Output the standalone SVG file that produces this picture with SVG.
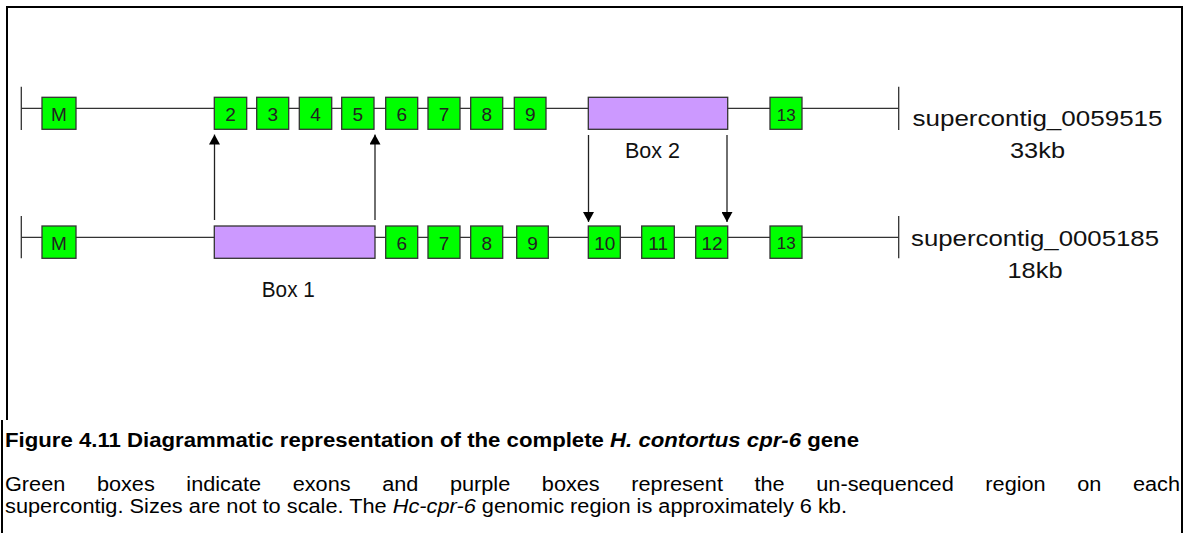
<svg xmlns="http://www.w3.org/2000/svg" width="1192" height="533" viewBox="0 0 1192 533">
<style>
.frame{fill:none;stroke:#000;stroke-width:2}
.ln{fill:none;stroke:#333;stroke-width:1.3}
.ex{fill:#00ff00;stroke:#333;stroke-width:1.3}
.gap{fill:#cc99ff;stroke:#333;stroke-width:1.3}
.num{font-family:"Liberation Sans",Arial,sans-serif;font-size:19px;fill:#222;text-anchor:middle}
.n13{font-size:17px}
.lbl{font-family:"Liberation Sans",Arial,sans-serif;font-size:22px;fill:#111;text-anchor:middle}
.cap{font-family:"Liberation Sans",Arial,sans-serif;font-size:19.5px;fill:#000}
.arr{fill:none;stroke:#222;stroke-width:1.3}
</style>
<defs>
<marker id="ah" markerUnits="userSpaceOnUse" markerWidth="10" markerHeight="11" viewBox="0 0 10 11" refX="10" refY="5.5" orient="auto">
<path d="M0,0 L10,5.5 L0,11 z" fill="#000"/>
</marker>
</defs>
<rect width="1192" height="533" fill="#fff"/>
<g id="frame">
<path class="frame" d="M7,420 V7 H1182 V533"/>
<path class="frame" d="M2,420 V533"/>
</g>
<g id="backbones">
<path class="ln" d="M21.3,108.3 H898.7 M21.3,86.7 V130 M898.7,86.7 V130"/>
<path class="ln" d="M21.3,237.3 H898.7 M21.3,216 V258.3 M898.7,216 V258.3"/>
</g>
<g id="connectors">
<line class="arr" x1="214.5" y1="220" x2="214.5" y2="134.5" marker-end="url(#ah)"/>
<line class="arr" x1="375" y1="220" x2="375" y2="134.5" marker-end="url(#ah)"/>
<line class="arr" x1="588.5" y1="135" x2="588.5" y2="222" marker-end="url(#ah)"/>
<line class="arr" x1="727" y1="135" x2="727" y2="222" marker-end="url(#ah)"/>
</g>
<g id="row1">
<g id="r1-M"><rect class="ex" x="42" y="97.3" width="34" height="32"/><text class="num" x="59" y="121">M</text></g>
<g id="r1-2"><rect class="ex" x="214.3" y="97.3" width="32.4" height="32"/><text class="num" x="230.5" y="121">2</text></g>
<g id="r1-3"><rect class="ex" x="256.7" y="97.3" width="32" height="32"/><text class="num" x="272.7" y="121">3</text></g>
<g id="r1-4"><rect class="ex" x="299.3" y="97.3" width="32.4" height="32"/><text class="num" x="315.5" y="121">4</text></g>
<g id="r1-5"><rect class="ex" x="341.7" y="97.3" width="32.3" height="32"/><text class="num" x="357.8" y="121">5</text></g>
<g id="r1-6"><rect class="ex" x="385.7" y="97.3" width="32" height="32"/><text class="num" x="401.7" y="121">6</text></g>
<g id="r1-7"><rect class="ex" x="428" y="97.3" width="32" height="32"/><text class="num" x="444" y="121">7</text></g>
<g id="r1-8"><rect class="ex" x="470.7" y="97.3" width="32" height="32"/><text class="num" x="486.7" y="121">8</text></g>
<g id="r1-9"><rect class="ex" x="514.3" y="97.3" width="31.7" height="32"/><text class="num" x="530.2" y="121">9</text></g>
<g id="box2"><rect class="gap" x="588.3" y="97.3" width="139.4" height="32"/><text class="lbl" x="652.5" y="158" textLength="55" lengthAdjust="spacingAndGlyphs">Box 2</text></g>
<g id="r1-13"><rect class="ex" x="770" y="97.3" width="32" height="32"/><text class="num n13" x="786.3" y="120.5">13</text></g>
<g id="label1"><text class="lbl" x="1037.5" y="126" textLength="250" lengthAdjust="spacingAndGlyphs">supercontig_0059515</text><text class="lbl" x="1037.5" y="158" textLength="55" lengthAdjust="spacingAndGlyphs">33kb</text></g>
</g>
<g id="row2">
<g id="r2-M"><rect class="ex" x="42" y="226" width="34" height="32.3"/><text class="num" x="59" y="249.5">M</text></g>
<g id="box1"><rect class="gap" x="214.3" y="226" width="160.7" height="32.3"/><text class="lbl" x="288.3" y="297" textLength="53" lengthAdjust="spacingAndGlyphs">Box 1</text></g>
<g id="r2-6"><rect class="ex" x="385.7" y="226" width="32" height="32.3"/><text class="num" x="401.7" y="249.5">6</text></g>
<g id="r2-7"><rect class="ex" x="428" y="226" width="32" height="32.3"/><text class="num" x="444" y="249.5">7</text></g>
<g id="r2-8"><rect class="ex" x="470.7" y="226" width="32" height="32.3"/><text class="num" x="486.7" y="249.5">8</text></g>
<g id="r2-9"><rect class="ex" x="516.7" y="226" width="31.6" height="32.3"/><text class="num" x="532.5" y="249.5">9</text></g>
<g id="r2-10"><rect class="ex" x="588.3" y="226" width="32" height="32.3"/><text class="num" x="604.8" y="249.5">10</text></g>
<g id="r2-11"><rect class="ex" x="641.7" y="226" width="32.6" height="32.3"/><text class="num" x="658.2" y="249.5">11</text></g>
<g id="r2-12"><rect class="ex" x="695.7" y="226" width="32" height="32.3"/><text class="num" x="712" y="249.5">12</text></g>
<g id="r2-13"><rect class="ex" x="770" y="226" width="32" height="32.3"/><text class="num n13" x="786.3" y="249">13</text></g>
<g id="label2"><text class="lbl" x="1035" y="246" textLength="248" lengthAdjust="spacingAndGlyphs">supercontig_0005185</text><text class="lbl" x="1035" y="278.3" textLength="55" lengthAdjust="spacingAndGlyphs">18kb</text></g>
</g>
<g id="caption">
<text class="cap" x="5" y="447" font-weight="bold" textLength="854" lengthAdjust="spacingAndGlyphs">Figure 4.11 Diagrammatic representation of the complete <tspan font-style="italic">H. contortus cpr-6</tspan> gene</text>
<text class="cap" x="5" y="491" word-spacing="23" textLength="1175" lengthAdjust="spacingAndGlyphs">Green boxes indicate exons and purple boxes represent the un-sequenced region on each</text>
<text class="cap" x="5" y="513" textLength="842" lengthAdjust="spacingAndGlyphs">supercontig. Sizes are not to scale. The <tspan font-style="italic">Hc-cpr-6</tspan> genomic region is approximately 6 kb.</text>
</g>
</svg>
